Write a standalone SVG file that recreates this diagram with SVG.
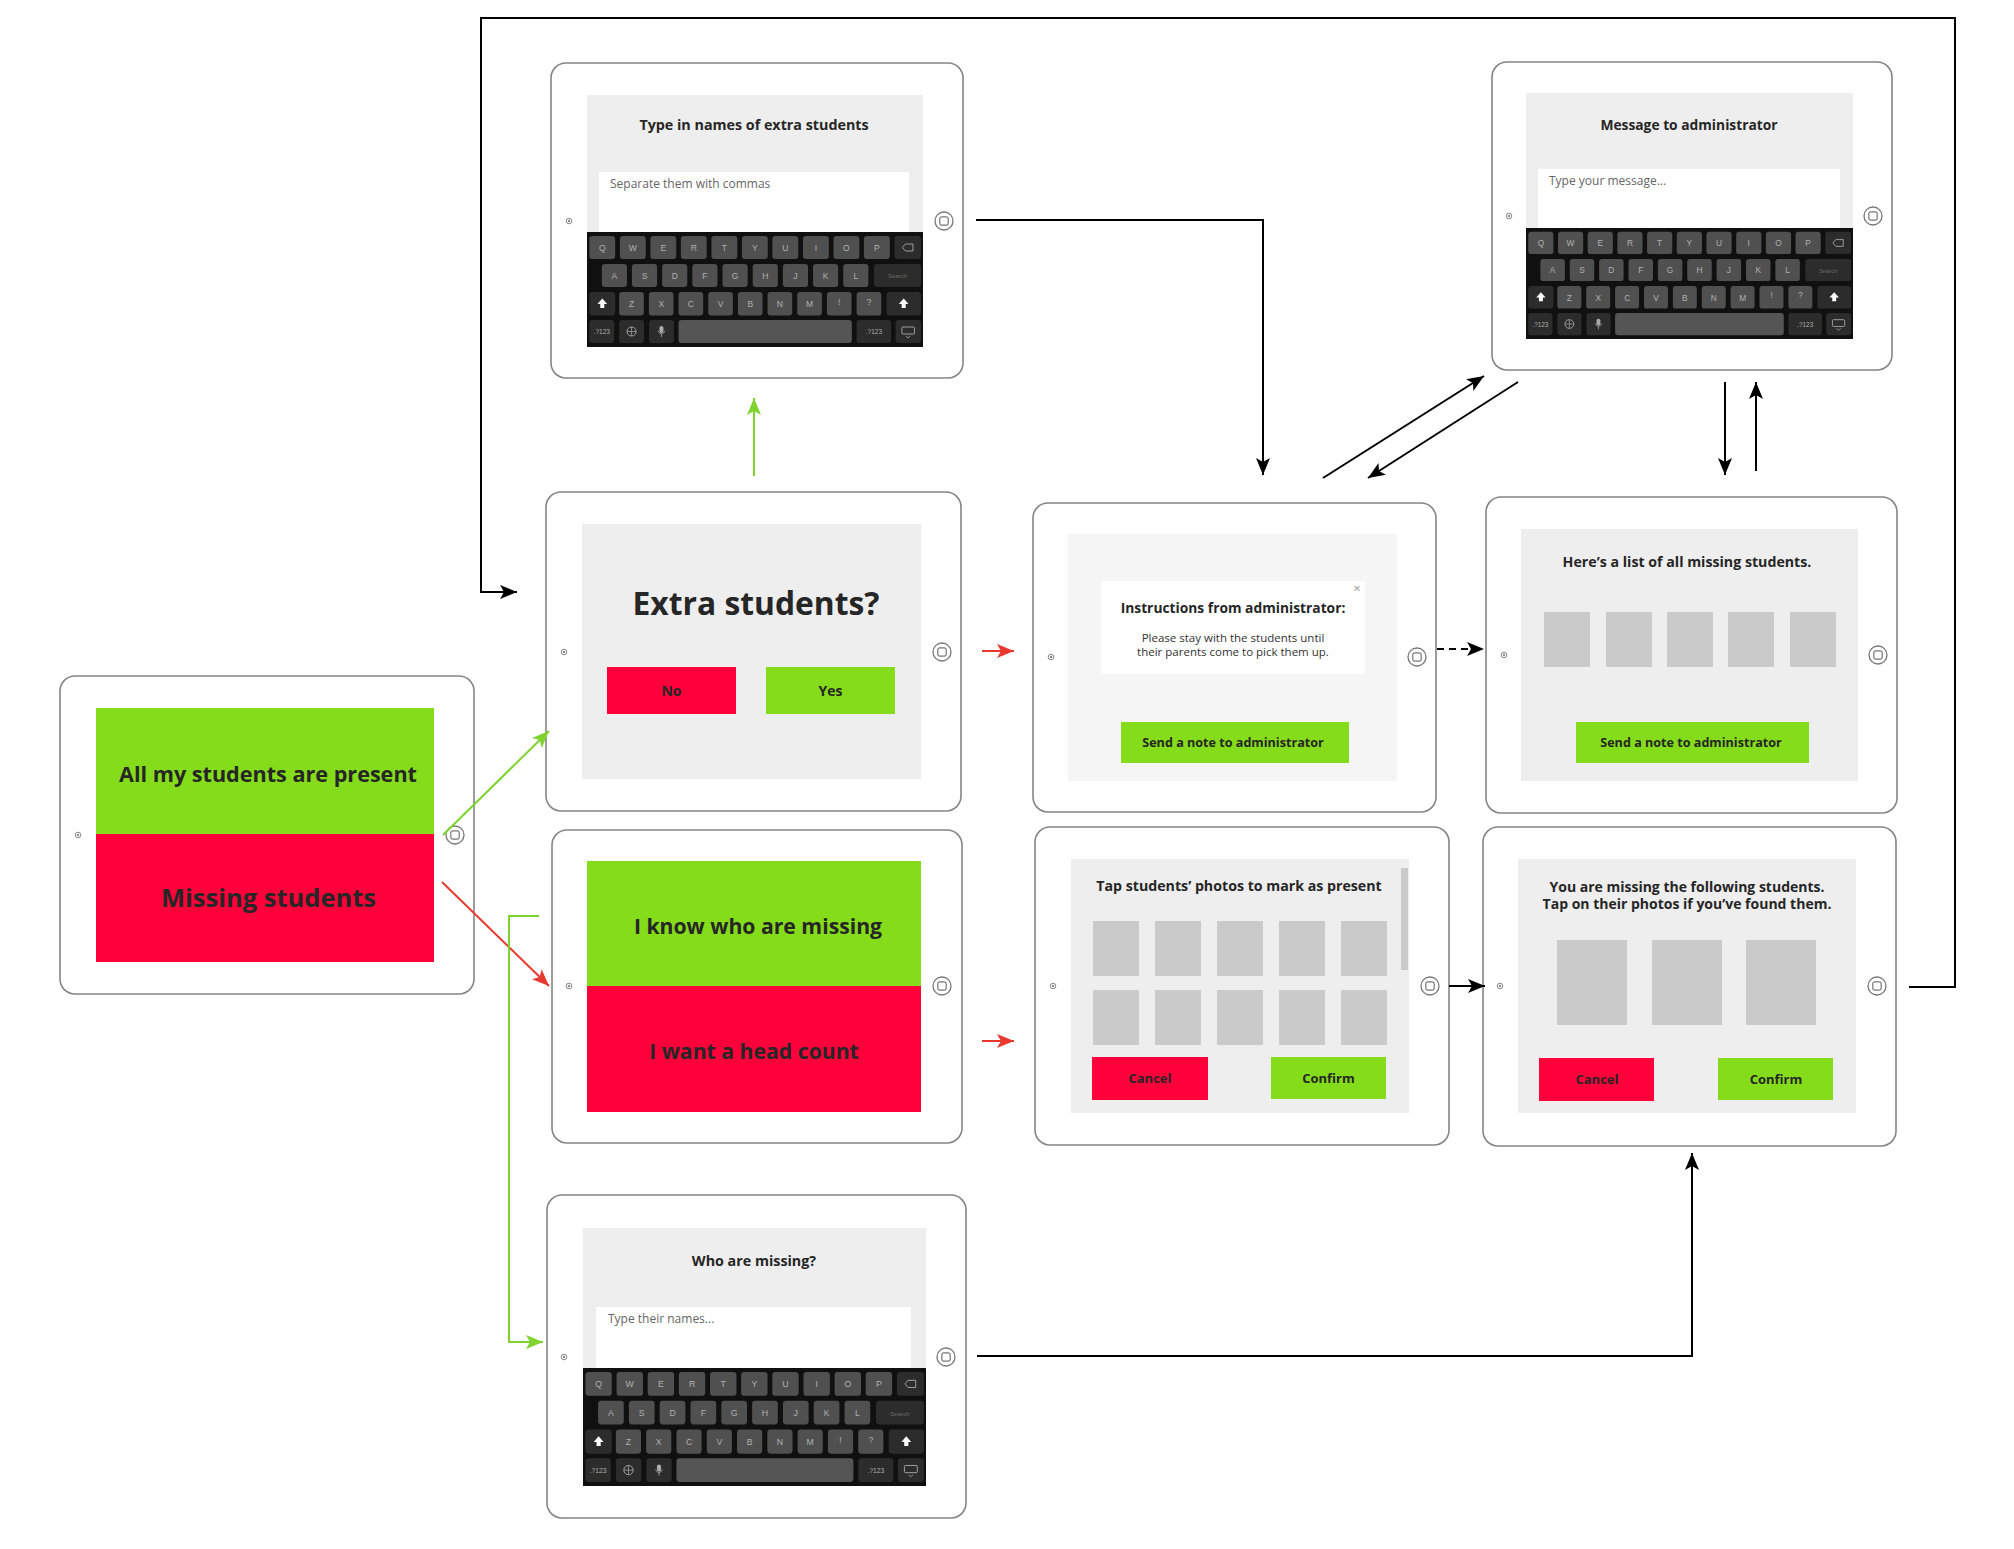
<svg xmlns="http://www.w3.org/2000/svg" xmlns:xlink="http://www.w3.org/1999/xlink" width="2014" height="1549" viewBox="0 0 2014 1549">
<style>
.frame{fill:#fff;stroke:#858585;stroke-width:1.6}
.scr{fill:#eeeeee}
.grn{fill:#84dc1a}
.red{fill:#ff003a}
.ph{fill:#cbcacb}
.wh{fill:#fff}
.t{font-family:"Open Sans","Liberation Sans",sans-serif;font-weight:700;fill:#262626;text-anchor:middle}
.r{font-family:"Open Sans","Liberation Sans",sans-serif;font-weight:400;fill:#333;text-anchor:middle}
.pl{font-family:"Open Sans","Liberation Sans",sans-serif;font-weight:400;fill:#666;font-size:12px}
.k{fill:#505050}
.kd{fill:#2c2c2c}
.kl{font-family:"Liberation Sans",sans-serif;font-size:8.5px;fill:#b0b0b0;text-anchor:middle}
.cb{fill:none;stroke:#000;stroke-width:2}
.cg{fill:none;stroke:#7ed32e;stroke-width:2}
.cr{fill:none;stroke:#e9392f;stroke-width:2}
</style>
<defs>
<marker id="ab" markerUnits="userSpaceOnUse" markerWidth="18" markerHeight="14" refX="17" refY="7" orient="auto"><path d="M0,0 L17,7 L0,14 L4,7 z" fill="#000"/></marker>
<marker id="ag" markerUnits="userSpaceOnUse" markerWidth="18" markerHeight="14" refX="17" refY="7" orient="auto"><path d="M0,0 L17,7 L0,14 L4,7 z" fill="#7ed32e"/></marker>
<marker id="ar" markerUnits="userSpaceOnUse" markerWidth="18" markerHeight="14" refX="17" refY="7" orient="auto"><path d="M0,0 L17,7 L0,14 L4,7 z" fill="#e9392f"/></marker>
<g id="hb"><circle cx="0" cy="0" r="9" fill="#fff" stroke="#777" stroke-width="1.3"/><rect x="-4.2" y="-4.2" width="8.4" height="8.4" rx="2" fill="none" stroke="#777" stroke-width="1.2"/></g>
<g id="cam"><circle cx="0" cy="0" r="2.8" fill="none" stroke="#888" stroke-width="1"/><circle cx="0" cy="0" r="1.2" fill="#888"/></g>
<symbol id="kb" viewBox="0 0 334 115" preserveAspectRatio="none">
<rect x="0" y="0" width="334" height="115" fill="#101010"/>
<g>
<rect class="k" x="2.3" y="4" width="25.7" height="23" rx="3"/><rect class="k" x="32.7" y="4" width="25.7" height="23" rx="3"/><rect class="k" x="63" y="4" width="25.7" height="23" rx="3"/><rect class="k" x="93.3" y="4" width="25.7" height="23" rx="3"/><rect class="k" x="123.7" y="4" width="25.7" height="23" rx="3"/><rect class="k" x="154" y="4" width="25.7" height="23" rx="3"/><rect class="k" x="184.3" y="4" width="25.7" height="23" rx="3"/><rect class="k" x="214.7" y="4" width="25.7" height="23" rx="3"/><rect class="k" x="245" y="4" width="25.7" height="23" rx="3"/><rect class="k" x="275.3" y="4" width="25.7" height="23" rx="3"/><rect class="kd" x="305.7" y="4" width="26.3" height="23" rx="3"/>
<rect class="k" x="14.7" y="32" width="25" height="23" rx="3"/><rect class="k" x="44.7" y="32" width="25" height="23" rx="3"/><rect class="k" x="74.7" y="32" width="25" height="23" rx="3"/><rect class="k" x="104.7" y="32" width="25" height="23" rx="3"/><rect class="k" x="134.7" y="32" width="25" height="23" rx="3"/><rect class="k" x="164.7" y="32" width="25" height="23" rx="3"/><rect class="k" x="194.7" y="32" width="25" height="23" rx="3"/><rect class="k" x="224.7" y="32" width="25" height="23" rx="3"/><rect class="k" x="254.7" y="32" width="25" height="23" rx="3"/><rect class="kd" x="285.3" y="32" width="46.7" height="23" rx="3"/>
<rect class="kd" x="2.3" y="60" width="25.7" height="23.5" rx="3"/><rect class="k" x="32" y="60" width="24.5" height="23.5" rx="3"/><rect class="k" x="61.5" y="60" width="24.5" height="23.5" rx="3"/><rect class="k" x="91" y="60" width="24.5" height="23.5" rx="3"/><rect class="k" x="120.5" y="60" width="24.5" height="23.5" rx="3"/><rect class="k" x="150" y="60" width="24.5" height="23.5" rx="3"/><rect class="k" x="179.5" y="60" width="24.5" height="23.5" rx="3"/><rect class="k" x="209" y="60" width="24.5" height="23.5" rx="3"/><rect class="k" x="238.5" y="60" width="24.5" height="23.5" rx="3"/><rect class="k" x="268" y="60" width="24.5" height="23.5" rx="3"/><rect class="kd" x="297.7" y="60" width="34.3" height="23.5" rx="3"/>
<rect class="kd" x="2.3" y="88" width="24.7" height="23" rx="3"/><rect class="kd" x="32" y="88" width="24.7" height="23" rx="3"/><rect class="kd" x="61.7" y="88" width="24.7" height="23" rx="3"/><rect x="91" y="88" width="172.3" height="23" rx="3" fill="#555"/><rect class="kd" x="268" y="88" width="34.3" height="23" rx="3"/><rect class="kd" x="306.7" y="88" width="25.3" height="23" rx="3"/>
</g>
<g class="kl">
<text x="15.2" y="19">Q</text><text x="45.5" y="19">W</text><text x="75.8" y="19">E</text><text x="106.2" y="19">R</text><text x="136.5" y="19">T</text><text x="166.9" y="19">Y</text><text x="197.2" y="19">U</text><text x="227.5" y="19">I</text><text x="257.9" y="19">O</text><text x="288.2" y="19">P</text>
<text x="27.2" y="47">A</text><text x="57.2" y="47">S</text><text x="87.2" y="47">D</text><text x="117.2" y="47">F</text><text x="147.2" y="47">G</text><text x="177.2" y="47">H</text><text x="207.2" y="47">J</text><text x="237.2" y="47">K</text><text x="267.2" y="47">L</text>
<text x="308.7" y="46.5" font-size="6" fill="#6a6a6a">Search</text>
<text x="44.3" y="75.5">Z</text><text x="73.8" y="75.5">X</text><text x="103.3" y="75.5">C</text><text x="132.8" y="75.5">V</text><text x="162.3" y="75.5">B</text><text x="191.8" y="75.5">N</text><text x="221.3" y="75.5">M</text><text x="250.8" y="73">!</text><text x="280.3" y="73">?</text>
<text x="14.7" y="102.5" font-size="6.5">.?123</text><text x="285.2" y="102.5" font-size="6.5">.?123</text>
</g>
<path d="M15.2,66.5 L20,72 L17.2,72 L17.2,76 L13.2,76 L13.2,72 L10.4,72 z" fill="#fff"/>
<path d="M314.8,66.5 L319.6,72 L316.8,72 L316.8,76 L312.8,76 L312.8,72 L310,72 z" fill="#fff"/>
<path d="M313.5,15.5 L316.5,12 L324,12 L324,19 L316.5,19 z" fill="none" stroke="#aaa" stroke-width="0.9"/>
<circle cx="44.3" cy="99.5" r="4.5" fill="none" stroke="#aaa" stroke-width="0.9"/><path d="M39.8,99.5 H48.8 M44.3,95 V104" stroke="#aaa" stroke-width="0.7"/>
<rect x="72" y="94" width="4" height="7" rx="2" fill="#aaa"/><path d="M70.5,99 Q74,105 77.5,99 M74,102 V105" fill="none" stroke="#aaa" stroke-width="0.8"/>
<rect x="313" y="95" width="12.5" height="7" rx="1" fill="none" stroke="#aaa" stroke-width="0.9"/><path d="M317,104 L319.2,106 L321.4,104" fill="none" stroke="#aaa" stroke-width="0.8"/>
</symbol>
</defs>

<g id="n-start">
<rect class="frame" x="60" y="676" width="414" height="318" rx="15"/>
<rect class="grn" x="96" y="708" width="338" height="126"/>
<rect class="red" x="96" y="834" width="338" height="128"/>
<text class="t" x="268" y="782" font-size="21.6">All my students are present</text>
<text class="t" x="268.5" y="907" font-size="25.5">Missing students</text>
<use xlink:href="#cam" x="78" y="835"/><use xlink:href="#hb" x="455" y="835"/>
</g>

<g id="n-typein">
<rect class="frame" x="551" y="63" width="412" height="315" rx="15"/>
<rect class="scr" x="587" y="95" width="336" height="252"/>
<text class="t" x="754" y="130" font-size="14.3">Type in names of extra students</text>
<rect class="wh" x="599" y="172" width="310" height="61"/>
<text class="pl" x="610" y="188">Separate them with commas</text>
<use xlink:href="#kb" x="587" y="232" width="336" height="115"/>
<use xlink:href="#cam" x="569" y="221"/><use xlink:href="#hb" x="944" y="221"/>
</g>

<g id="n-extra">
<rect class="frame" x="546" y="492" width="415" height="319" rx="15"/>
<rect class="scr" x="582" y="524" width="339" height="255"/>
<text class="t" x="756" y="615" font-size="31.8">Extra students?</text>
<rect class="red" x="607" y="667" width="129" height="47"/>
<text class="t" x="671.5" y="696" font-size="14">No</text>
<rect class="grn" x="766" y="667" width="129" height="47"/>
<text class="t" x="830.5" y="696" font-size="14">Yes</text>
<use xlink:href="#cam" x="564" y="652"/><use xlink:href="#hb" x="942" y="652"/>
</g>

<g id="n-know">
<rect class="frame" x="552" y="830" width="410" height="313" rx="15"/>
<rect class="grn" x="587" y="861" width="334" height="125"/>
<rect class="red" x="587" y="986" width="334" height="126"/>
<text class="t" x="758" y="934" font-size="21.2">I know who are missing</text>
<text class="t" x="754" y="1059" font-size="21.2">I want a head count</text>
<use xlink:href="#cam" x="569" y="986"/><use xlink:href="#hb" x="942" y="986"/>
</g>

<g id="n-who">
<rect class="frame" x="547" y="1195" width="419" height="323" rx="15"/>
<rect class="scr" x="583" y="1228" width="343" height="258"/>
<text class="t" x="754" y="1266" font-size="14.3">Who are missing?</text>
<rect class="wh" x="596" y="1307" width="315" height="61"/>
<text class="pl" x="608" y="1323">Type their names...</text>
<use xlink:href="#kb" x="583" y="1368" width="343" height="118"/>
<use xlink:href="#cam" x="564" y="1357"/><use xlink:href="#hb" x="946" y="1357"/>
</g>

<g id="n-instr">
<rect class="frame" x="1033" y="503" width="403" height="309" rx="15"/>
<rect x="1068" y="534" width="329" height="247" fill="#f5f5f5"/>
<rect class="wh" x="1101" y="581" width="264" height="93" rx="3"/>
<text class="r" x="1357" y="593" font-size="13" style="fill:#999">×</text>
<text class="t" x="1233" y="613" font-size="13.8">Instructions from administrator:</text>
<text class="r" x="1233" y="642" font-size="11.5">Please stay with the students until</text>
<text class="r" x="1233" y="656" font-size="11.5">their parents come to pick them up.</text>
<rect class="grn" x="1121" y="722" width="228" height="41"/>
<text class="t" x="1233" y="747" font-size="12.6">Send a note to administrator</text>
<use xlink:href="#cam" x="1051" y="657"/><use xlink:href="#hb" x="1417" y="657"/>
</g>

<g id="n-list">
<rect class="frame" x="1486" y="497" width="411" height="316" rx="15"/>
<rect class="scr" x="1521" y="529" width="337" height="252"/>
<text class="t" x="1687" y="567" font-size="14.2">Here’s a list of all missing students.</text>
<rect class="ph" x="1544" y="612" width="46" height="55"/><rect class="ph" x="1606" y="612" width="46" height="55"/><rect class="ph" x="1667" y="612" width="46" height="55"/><rect class="ph" x="1728" y="612" width="46" height="55"/><rect class="ph" x="1790" y="612" width="46" height="55"/>
<rect class="grn" x="1576" y="722" width="233" height="41"/>
<text class="t" x="1691" y="747" font-size="12.6">Send a note to administrator</text>
<use xlink:href="#cam" x="1504" y="655"/><use xlink:href="#hb" x="1878" y="655"/>
</g>

<g id="n-tap">
<rect class="frame" x="1035" y="827" width="414" height="318" rx="15"/>
<rect class="scr" x="1071" y="859" width="338" height="254"/>
<rect class="ph" x="1401" y="868" width="7" height="102"/>
<text class="t" x="1239" y="891" font-size="14.2">Tap students’ photos to mark as present</text>
<rect class="ph" x="1093" y="921" width="46" height="55"/><rect class="ph" x="1155" y="921" width="46" height="55"/><rect class="ph" x="1217" y="921" width="46" height="55"/><rect class="ph" x="1279" y="921" width="46" height="55"/><rect class="ph" x="1341" y="921" width="46" height="55"/>
<rect class="ph" x="1093" y="990" width="46" height="55"/><rect class="ph" x="1155" y="990" width="46" height="55"/><rect class="ph" x="1217" y="990" width="46" height="55"/><rect class="ph" x="1279" y="990" width="46" height="55"/><rect class="ph" x="1341" y="990" width="46" height="55"/>
<rect class="red" x="1092" y="1057" width="116" height="43"/>
<text class="t" x="1150" y="1083" font-size="13">Cancel</text>
<rect class="grn" x="1271" y="1057" width="115" height="42"/>
<text class="t" x="1328.5" y="1083" font-size="13">Confirm</text>
<use xlink:href="#cam" x="1053" y="986"/><use xlink:href="#hb" x="1430" y="986"/>
</g>

<g id="n-youmiss">
<rect class="frame" x="1483" y="827" width="413" height="319" rx="15"/>
<rect class="scr" x="1518" y="859" width="338" height="254"/>
<text class="t" x="1687" y="892" font-size="14">You are missing the following students.</text>
<text class="t" x="1687" y="908.5" font-size="14">Tap on their photos if you’ve found them.</text>
<rect class="ph" x="1557" y="940" width="70" height="85"/><rect class="ph" x="1652" y="940" width="70" height="85"/><rect class="ph" x="1746" y="940" width="70" height="85"/>
<rect class="red" x="1539" y="1058" width="115" height="43"/>
<text class="t" x="1597" y="1084" font-size="13">Cancel</text>
<rect class="grn" x="1718" y="1058" width="115" height="42"/>
<text class="t" x="1776" y="1084" font-size="13">Confirm</text>
<use xlink:href="#cam" x="1500" y="986"/><use xlink:href="#hb" x="1877" y="986"/>
</g>

<g id="n-msg">
<rect class="frame" x="1492" y="62" width="400" height="308" rx="15"/>
<rect class="scr" x="1526" y="93" width="327" height="246"/>
<text class="t" x="1689" y="130" font-size="13.8">Message to administrator</text>
<rect class="wh" x="1538" y="169" width="302" height="59"/>
<text class="pl" x="1549" y="185">Type your message...</text>
<use xlink:href="#kb" x="1526" y="228" width="327" height="111"/>
<use xlink:href="#cam" x="1509" y="216"/><use xlink:href="#hb" x="1873" y="216"/>
</g>

<g id="connectors">
<path class="cg" d="M443,835 L549,731" marker-end="url(#ag)"/>
<path class="cr" d="M442,882 L549,986" marker-end="url(#ar)"/>
<path class="cg" d="M539,916 H509 V1342 H543" marker-end="url(#ag)"/>
<path class="cg" d="M754,476 V398" marker-end="url(#ag)"/>
<path class="cr" d="M982,651 H1014" marker-end="url(#ar)"/>
<path class="cr" d="M982,1041 H1014" marker-end="url(#ar)"/>
<path class="cb" d="M976,220 H1263 V475" marker-end="url(#ab)"/>
<path class="cb" d="M1323,478 L1484,376" marker-end="url(#ab)"/>
<path class="cb" d="M1518,382 L1368,478" marker-end="url(#ab)"/>
<path class="cb" d="M1725,382 V475" marker-end="url(#ab)"/>
<path class="cb" d="M1756,471 V382" marker-end="url(#ab)"/>
<path class="cb" d="M1437,649 H1484" stroke-dasharray="7,5" marker-end="url(#ab)"/>
<path class="cb" d="M1449,986 H1485" marker-end="url(#ab)"/>
<path class="cb" d="M1909,987 H1955 V18 H481 V592 H517" marker-end="url(#ab)"/>
<path class="cb" d="M977,1356 H1692 V1153" marker-end="url(#ab)"/>
</g>
</svg>
